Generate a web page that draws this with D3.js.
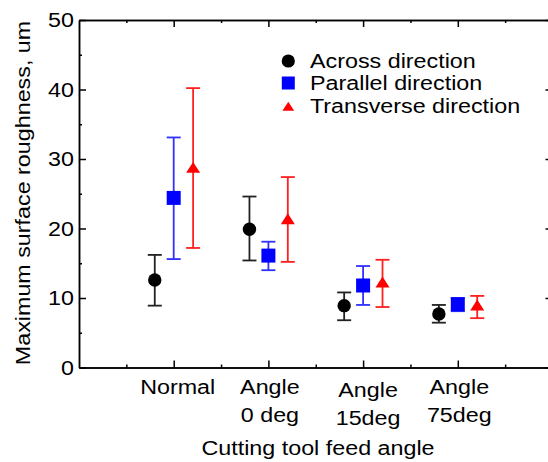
<!DOCTYPE html>
<html>
<head>
<meta charset="utf-8">
<script src="https://cdn.jsdelivr.net/npm/d3@7"></script>
<style>
  html,body{margin:0;padding:0;background:#fff;}
  svg{display:block;font-family:"Liberation Sans",Arial,Helvetica,sans-serif;}
  .axis path,.axis line{stroke:#000;stroke-width:1.5;}
</style>
</head>
<body>
<svg id="chart" width="548" height="462"></svg>
<script>
// ── data ──
const CAT_LINES = [["Normal"], ["Angle", "0 deg"], ["Angle", "15deg"], ["Angle", "75deg"]];
const SERIES = ["Across direction", "Parallel direction", "Transverse direction"];
const Y_TICKS = [0, 10, 20, 30, 40, 50];

const ACROSS_MEAN = [12.6, 19.9, 8.9, 7.7];
const ACROSS_LO   = [8.9, 15.4, 6.8, 6.45];
const ACROSS_HI   = [16.2, 24.6, 10.8, 9.0];

const PARALLEL_MEAN = [24.4, 16.1, 11.8, 9.1];
const PARALLEL_LO   = [15.6, 14.0, 9.0, 8.1];
const PARALLEL_HI   = [33.1, 18.1, 14.6, 10.0];

const TRANS_MEAN = [28.8, 21.4, 12.3, 9.0];
const TRANS_LO   = [17.2, 15.2, 8.7, 7.1];
const TRANS_HI   = [40.2, 27.4, 15.5, 10.3];

// ── layout ──
const SX = 1.11;                     // text in the source is a bit wider than Arial
const FS = 21;
const svg = d3.select("#chart");
const x = d3.scaleLinear().domain([0, 5]).range([79, 552.5]);
const y = d3.scaleLinear().domain([0, 50]).range([367.5, 20]);
const OFF = [-0.2, 0, 0.205];        // group offsets in x units
const LABEL_NUDGE = [[4, 0], [1.5, 0], [5, 2.5], [1.5, 0]];

const tri = {draw(ctx, s){const w = s / 2, h = s * 0.39; ctx.moveTo(0, -h); ctx.lineTo(w, h); ctx.lineTo(-w, h); ctx.closePath();}};
const STYLE = [
  {fill: "#000", bar: "#222", sym: d3.symbolCircle, size: Math.PI * 6.7 * 6.7, legSize: Math.PI * 6.6 * 6.6},
  {fill: "#0000ff", bar: "#3030ff", sym: d3.symbolSquare, size: 14 * 14, legSize: 13 * 13},
  {fill: "#ff0000", bar: "#ff2020", sym: tri, size: 14, legSize: 11.7}
];
const DATA = [
  {mean: ACROSS_MEAN, lo: ACROSS_LO, hi: ACROSS_HI},
  {mean: PARALLEL_MEAN, lo: PARALLEL_LO, hi: PARALLEL_HI},
  {mean: TRANS_MEAN, lo: TRANS_LO, hi: TRANS_HI}
];

// ── axes: ticks point inward on all four sides ──
const xMaj = [1, 2, 3, 4], xMin = [0.5, 1.5, 2.5, 3.5, 4.5];
const yMin = [5, 15, 25, 35, 45];
function ax(gen, tr, vals, size){
  svg.append("g").attr("class", "axis").attr("transform", tr)
    .call(gen.tickValues(vals).tickSize(size).tickSizeOuter(0).tickFormat(""));
}
ax(d3.axisBottom(x), `translate(0,${y(0)})`, xMaj, -7);
ax(d3.axisBottom(x), `translate(0,${y(0)})`, xMin, -3);
ax(d3.axisTop(x), `translate(0,${y(50)})`, xMaj, -7);
ax(d3.axisTop(x), `translate(0,${y(50)})`, xMin, -3);
ax(d3.axisLeft(y), `translate(${x(0)},0)`, Y_TICKS, -7);
ax(d3.axisLeft(y), `translate(${x(0)},0)`, yMin, -3);
ax(d3.axisRight(y), `translate(${x(5)},0)`, Y_TICKS, -7);
ax(d3.axisRight(y), `translate(${x(5)},0)`, yMin, -3);

// y tick labels
svg.append("g").selectAll("text").data(Y_TICKS).join("text")
  .attr("transform", d => `translate(74,${y(d) + 7.4}) scale(${SX},1)`)
  .attr("text-anchor", "end").attr("font-size", FS).text(d => d);

// category labels
CAT_LINES.forEach((lines, i) => {
  const t = svg.append("text").attr("font-size", FS).attr("text-anchor", "middle")
    .attr("transform", `translate(${x(i + 1) + LABEL_NUDGE[i][0]},${394 + LABEL_NUDGE[i][1]}) scale(${SX},1)`);
  lines.forEach((ln, k) => t.append("tspan").attr("x", 0).attr("y", k * 28.5).text(ln));
});

// axis titles
svg.append("text").attr("font-size", FS).attr("text-anchor", "middle")
  .attr("transform", `translate(318,455) scale(${SX},1)`).text("Cutting tool feed angle");
svg.append("text").attr("font-size", FS).attr("text-anchor", "middle")
  .attr("transform", `translate(30,193) rotate(-90) scale(${SX},1)`).text("Maximum surface roughness, um");

// ── error bars + markers ──
DATA.forEach((s, si) => {
  const st = STYLE[si];
  const g = svg.append("g");
  const pts = s.mean.map((m, i) => ({cx: x(i + 1 + OFF[si]), m, lo: s.lo[i], hi: s.hi[i]}));
  g.selectAll("line.v").data(pts).join("line").attr("class", "v")
    .attr("x1", d => d.cx).attr("x2", d => d.cx).attr("y1", d => y(d.lo)).attr("y2", d => y(d.hi))
    .attr("stroke", st.bar).attr("stroke-width", 1.8);
  ["lo", "hi"].forEach(k => g.selectAll("line." + k).data(pts).join("line").attr("class", k)
    .attr("x1", d => d.cx - 7).attr("x2", d => d.cx + 7).attr("y1", d => y(d[k])).attr("y2", d => y(d[k]))
    .attr("stroke", st.bar).attr("stroke-width", 1.8));
  g.selectAll("path").data(pts).join("path")
    .attr("transform", d => `translate(${d.cx},${y(d.m)})`)
    .attr("d", d3.symbol().type(st.sym).size(st.size)).attr("fill", st.fill);
});

// ── legend ──
const LEG_Y = [61, 83, 106.3];
const leg = svg.append("g");
SERIES.forEach((name, i) => {
  const st = STYLE[i];
  leg.append("path").attr("transform", `translate(288.3,${LEG_Y[i]})`)
    .attr("d", d3.symbol().type(st.sym).size(st.legSize)).attr("fill", st.fill);
  leg.append("text").attr("font-size", FS)
    .attr("transform", `translate(310,${LEG_Y[i] + 6.8}) scale(${SX},1)`).text(name);
});
</script>
</body>
</html>
